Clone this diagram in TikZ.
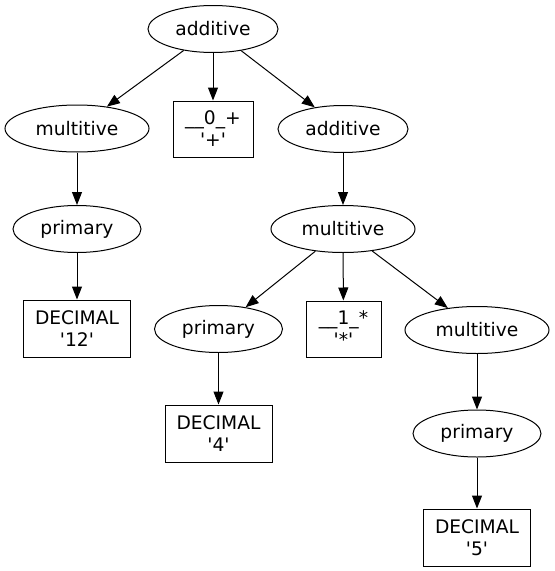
\documentclass[tikz,border=0pt]{standalone}
\usepackage{fontspec}
\setmainfont{DejaVu Sans}
\usetikzlibrary{shapes.geometric,arrows.meta}
\newcommand{\sqt}{\XeTeXglyph\XeTeXcharglyph"27\relax}
\begin{document}
\begin{tikzpicture}[x=0.75pt,y=-0.75pt,
  every node/.style={font=\fontsize{14}{16.5}\selectfont, align=center, inner sep=0pt, line width=0.75pt},
  ell/.style={draw, ellipse, minimum height=35.25pt},
  addw/.style={ell, minimum width=97.5pt},
  mulw/.style={ell, minimum width=108pt},
  priw/.style={ell, minimum width=96pt},
  decbox/.style={draw, rectangle, minimum width=80.25pt, minimum height=42.75pt},
  tokbox/.style={draw, rectangle, minimum height=42pt},
  edge/.style={draw, line width=0.75pt, -{Triangle[length=9.75pt,width=7.5pt]}}
]
\useasboundingbox (0,0) rectangle (555,571);
\node[addw] (a1) at (213,29) {additive};
\node[mulw] (m1) at (77,128.5) {multitive};
\node[tokbox, minimum width=60pt] (t0) at (213,129) {\_\_0\_+\\\sqt+\sqt};
\node[addw] (a2) at (343,129) {additive};
\node[priw] (p1) at (77,229) {primary};
\node[decbox] (d12) at (77,328.5) {DECIMAL\\\sqt12\sqt};
\node[mulw] (m2) at (343,229) {multitive};
\node[priw] (p2) at (218.5,329) {primary};
\node[tokbox, minimum width=56.25pt] (t1) at (343.5,329) {\_\_1\_*\\\sqt*\sqt};
\node[mulw] (m3) at (477,330) {multitive};
\node[decbox] (d4) at (218.5,433.5) {DECIMAL\\\sqt4\sqt};
\node[priw] (p3) at (477,433.5) {primary};
\node[decbox] (d5) at (477,537.5) {DECIMAL\\\sqt5\sqt};
\path[edge] (a1) -- (m1);
\path[edge] (a1) -- (t0);
\path[edge] (a1) -- (a2);
\path[edge] (m1) -- (p1);
\path[edge] (p1) -- (d12);
\path[edge] (a2) -- (m2);
\path[edge] (m2) -- (p2);
\path[edge] (m2) -- (t1);
\path[edge] (m2) -- (m3);
\path[edge] (p2) -- (d4);
\path[edge] (m3) -- (p3);
\path[edge] (p3) -- (d5);
\end{tikzpicture}
\end{document}
